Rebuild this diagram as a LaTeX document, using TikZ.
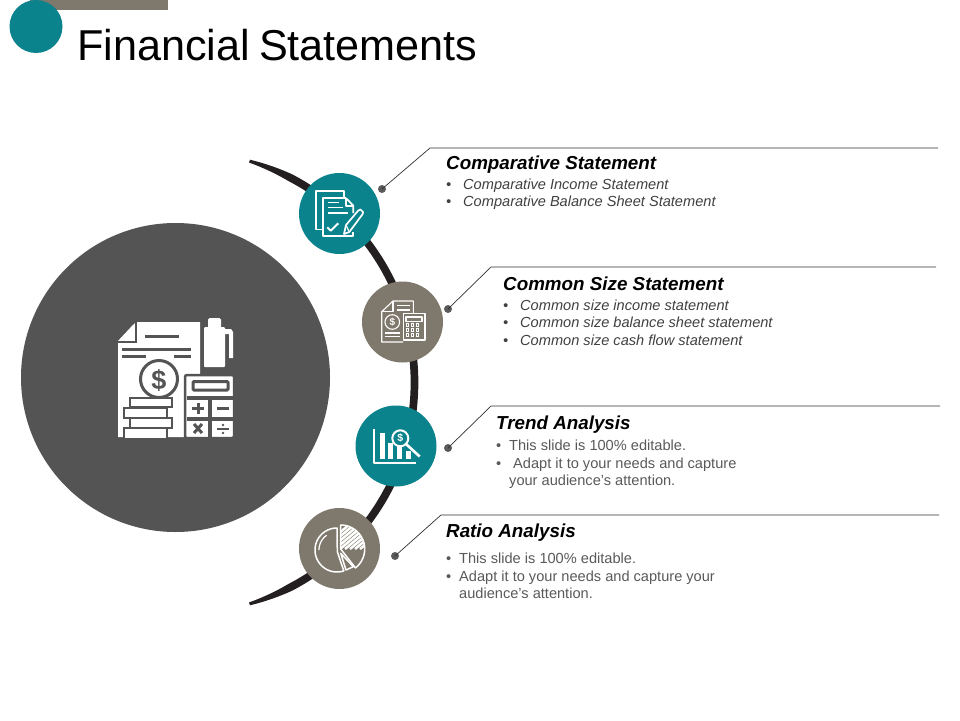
\documentclass[tikz,border=0pt]{standalone}
\usepackage{fontspec}
\setmainfont{Liberation Sans}[Ligatures=ResetAll]
\definecolor{teal1}{HTML}{0B838D}
\definecolor{taupe}{HTML}{7F786C}
\definecolor{dgrey}{HTML}{545454}
\definecolor{ringc}{HTML}{231F20}
\definecolor{dotc}{HTML}{5A5A5A}
\definecolor{leadc}{HTML}{303030}
\definecolor{txtc}{HTML}{404040}
\definecolor{txtb}{HTML}{595959}
\tikzset{
 x=1pt,y=-1pt,
 badge/.style={circle,minimum size=81pt,inner sep=0pt,draw=none},
 tealb/.style={badge,fill=teal1},
 taupeb/.style={badge,fill=taupe},
 dotn/.style={circle,minimum size=8pt,inner sep=0pt,fill=dotc},
 leader/.style={draw=leadc,line width=0.7pt},
 head/.style={anchor=base west,inner sep=0pt,font=\fontsize{18.8}{20}\selectfont\bfseries\itshape,text=black},
 iteml/.style={anchor=base west,inner sep=0pt,font=\fontsize{14.6}{16}\selectfont\itshape,text=txtc},
 itemp/.style={anchor=base west,inner sep=0pt,font=\fontsize{14.6}{16}\selectfont,text=txtb},
 ico/.style={draw=white,line width=1.7pt,fill=none,line join=round},
 bigw/.style={fill=white,draw=none},
 bigd/.style={draw=dgrey,line width=3pt},
}
\begin{document}
\begin{tikzpicture}
\useasboundingbox (0,0) rectangle (960,720);
% header
\fill[taupe] (30,0) rectangle (168,10);
\node[circle,minimum size=53pt,inner sep=0pt,fill=teal1] (hc) at (36,26.5) {};
\node[anchor=base west,inner sep=0pt,font=\fontsize{43.2}{48}\selectfont,text=black] (title) at (77,60) {Financial\hspace{-3pt} Statements};
% ring (tapered ends)
\fill[ringc] plot[domain=-73.4:73.4,samples=120,smooth] ({183.5+(231+0.5*(3+4.7*min(1,(73.4-abs(\x))/11)))*cos(\x)},{382.5+(231+0.5*(3+4.7*min(1,(73.4-abs(\x))/11)))*sin(\x)})
 -- plot[domain=73.4:-73.4,samples=120,smooth] ({183.5+(231-0.5*(3+4.7*min(1,(73.4-abs(\x))/11)))*cos(\x)},{382.5+(231-0.5*(3+4.7*min(1,(73.4-abs(\x))/11)))*sin(\x)}) -- cycle;
% main disc
\node[circle,minimum size=309pt,inner sep=0pt,fill=dgrey] (main) at (175.5,377.5) {};
% badges
\node[tealb] (b1) at (339.5,213.5) {};
\node[taupeb] (b2) at (402.5,322) {};
\node[tealb] (b3) at (396,446) {};
\node[taupeb] (b4) at (339.5,548.5) {};
% leaders
\node[dotn] (d1) at (382,189) {};
\node[dotn] (d2) at (448,309) {};
\node[dotn] (d3) at (448,448) {};
\node[dotn] (d4) at (395,556) {};
\coordinate (k1) at (430,148); \coordinate (e1) at (938,148);
\coordinate (k2) at (491,267); \coordinate (e2) at (936,267);
\coordinate (k3) at (491,406); \coordinate (e3) at (940,406);
\coordinate (k4) at (441,515); \coordinate (e4) at (939,515);
\draw[leader] (d1.center) -- (k1) -- (e1);
\draw[leader] (d2.center) -- (k2) -- (e2);
\draw[leader] (d3.center) -- (k3) -- (e3);
\draw[leader] (d4.center) -- (k4) -- (e4);
% text 1
\node[head] (h1) at (446,169) {Comparative Statement};
\node[iteml] (t1a0) at (446,189) {•};
\node[iteml] (t1a) at (463,189) {Comparative Income Statement};
\node[iteml] (t1b0) at (446,206) {•};
\node[iteml] (t1b) at (463,206) {Comparative Balance Sheet Statement};
% text 2
\node[head] (h2) at (503,290) {Common Size Statement};
\node[iteml] (t2a0) at (503,310) {•};
\node[iteml] (t2a) at (520,310) {Common size income statement};
\node[iteml] (t2b0) at (503,327) {•};
\node[iteml] (t2b) at (520,327) {Common size balance sheet statement};
\node[iteml] (t2c0) at (503,345) {•};
\node[iteml] (t2c) at (520,345) {Common size cash flow statement};
% text 3
\node[head] (h3) at (496,429) {Trend Analysis};
\node[itemp] (t3a0) at (496,450) {•};
\node[itemp] (t3a) at (509,450) {This slide is 100\% editable.};
\node[itemp] (t3b0) at (496,468) {•};
\node[itemp] (t3b) at (513,468) {Adapt it to your needs and capture};
\node[itemp] (t3c) at (509,485) {your audience's attention.};
% text 4
\node[head] (h4) at (446,537) {Ratio Analysis};
\node[itemp] (t4a0) at (446,563) {•};
\node[itemp] (t4a) at (459,563) {This slide is 100\% editable.};
\node[itemp] (t4b0) at (446,581) {•};
\node[itemp] (t4b) at (459,581) {Adapt it to your needs and capture your};
\node[itemp] (t4c) at (459,598) {audience's attention.};
% big icon: document
\fill[bigw] (136,322) -- (200,322) -- (200,376) -- (184,376) -- (184,437) -- (118,437) -- (118,341) -- cycle;
\draw[dgrey,line width=2.5pt] (136,321) -- (136,342) -- (117,342);
\fill[bigw] (133,325) -- (133,339) -- (120,339) -- cycle;
\draw[bigd] (145,336) -- (179,336);
\draw[bigd] (122,349) -- (191,349);
\draw[bigd] (122,356) -- (146,356);
\draw[bigd] (174,356) -- (191,356);
% coin
\draw[dgrey,fill=white,line width=3pt] (159,379) circle [radius=18.5];
\node[inner sep=0pt,font=\fontsize{27}{27}\selectfont\bfseries,text=dgrey] (dollarbig) at (159,380) {\$};
% coin stack
\foreach \xa/\ya/\xb/\yb in {130/398/172/407,124/408/167/418,130/418/172/428,124/428/167/440}{
 \draw[dgrey,fill=white,line width=2.8pt] (\xa,\ya) rectangle (\xb,\yb);
}
\fill[dgrey] (118,437.5) rectangle (184,445);
% bottle
\fill[bigw,rounded corners=1.5pt] (208,318) rectangle (221,330);
\fill[bigw,rounded corners=1pt] (204,327) rectangle (225,367);
\fill[bigw] (225,329) -- (231,329) -- (233,332) -- (233,358) -- (229,358) -- (229,334) -- (225,334) -- cycle;
% calculator
\draw[dgrey,line width=2.5pt,fill=white,rounded corners=2pt] (185,375) rectangle (234,438);
\fill[dgrey] (184,437.5) rectangle (236,445);
\draw[dgrey,line width=3pt,rounded corners=1pt,fill=white] (193,381.5) rectangle (228,390);
\fill[dgrey] (187,396) rectangle (234,400);
\fill[dgrey] (208,400) rectangle (212,437);
\fill[dgrey] (187,417) rectangle (234,421);
\draw[dgrey,line width=3pt] (192,408) -- (204,408) (198,402.5) -- (198,413.5);
\draw[dgrey,line width=3pt] (217,408) -- (229,408);
\draw[dgrey,line width=3pt] (194,424) -- (202,433) (202,424) -- (194,433);
\draw[dgrey,line width=2pt] (217,429) -- (229,429);
\fill[dgrey] (223,425) circle [radius=1.3] (223,433) circle [radius=1.3];
% icon 1
\draw[ico] (322.7,229.5) -- (316,229.5) -- (316,191) -- (344,191) -- (344,198);
\draw[ico] (346,198) -- (322.7,198) -- (322.7,236) -- (353,236) -- (353,232);
\draw[ico] (346,198) -- (353.3,205.7) -- (353.3,213);
\draw[ico] (346,198) -- (346,205.7) -- (353.3,205.7);
\draw[ico] (328,202.5) -- (338.5,202.5) (328,207.5) -- (343,207.5) (328,213) -- (348,213);
\draw[ico,line width=2pt] (327.3,227.3) -- (330.7,230.7) -- (338.3,223.3);
\draw[ico] (344,234) -- (346,225) -- (358.3,210.5) -- (360.5,209.5) -- (363,212) -- (362.7,214) -- (349.3,232) -- cycle;
\draw[ico,line width=1.2pt] (346,225) -- (349.3,232);
% icon 2
\draw[ico,line width=1.1pt] (403,342) -- (381.7,342) -- (381.7,311.7) -- (393,301) -- (413.3,301) -- (413.3,313);
\draw[ico,line width=1.1pt] (381.7,311.7) -- (393,311.7) -- (393,301);
\draw[ico,line width=1.1pt] (397,305.5) -- (410,305.5) (397,310) -- (410,310);
\draw[ico,line width=1.1pt] (392.3,322) circle [radius=7.3];
\node[inner sep=0pt,font=\fontsize{10}{10}\selectfont\bfseries,text=white] (dollar2) at (392.3,322) {\$};
\draw[ico,line width=1.1pt] (385,333) -- (400,333) (385,336.5) -- (400,336.5);
\draw[ico,line width=1.1pt] (403.3,313.3) rectangle (425,340);
\draw[ico,line width=1.1pt] (406,317) rectangle (422,321.5);
\foreach \px in {407.5,412.5,417.5}{\foreach \py in {325,330,335}{
 \fill[white] (\px-1.7,\py-1.7) rectangle (\px+1.7,\py+1.7);
}}
\foreach \px in {407.5,412.5,417.5}{\foreach \py in {325,330,335}{
 \fill[taupe] (\px-0.6,\py-0.6) rectangle (\px+0.6,\py+0.6);
}}
% icon 3
\draw[ico,line width=1.2pt] (374,429) -- (374,463) -- (416,463);
\foreach \tx in {379,383,...,415}{\draw[white,line width=0.7pt] (\tx,461.5) -- (\tx,463);}
\foreach \xa/\ya/\xb in {379.7/432.7/385.3,388/442.7/392.5,397.3/447/401.8,406.3/451/411.3}{
 \fill[white] (\xa,\ya) rectangle (\xb,459.3);
}
\draw[ico,fill=teal1,line width=2pt] (400.3,438.3) circle [radius=8];
\draw[white,line width=2.6pt] (406.2,444.2) -- (419.7,456.5);
\node[inner sep=0pt,font=\fontsize{10.5}{10}\selectfont\bfseries,text=white] (dollar3) at (400.3,438.3) {\$};
% icon 4
\draw[ico,line width=1.5pt] plot[domain=-90:-288,samples=50,smooth] ({337+22*cos(\x)},{550+22*sin(\x)}) -- (337.3,551.7) -- cycle;
\draw[white,line width=1.2pt] plot[domain=-180:-125,samples=15,smooth] ({337+18*cos(\x)},{550+18*sin(\x)});
\begin{scope}
\clip plot[domain=-90:52,samples=40,smooth] ({340.7+24*cos(\x)},{549+24*sin(\x)}) -- (340.7,549) -- cycle;
\foreach \i in {0,5,...,65}{\draw[white,line width=2.5pt] (320+\i,549) -- (320+\i+30,524);}
\end{scope}
\draw[ico,line width=1.5pt] plot[domain=-90:52,samples=40,smooth] ({340.7+24*cos(\x)},{549+24*sin(\x)}) -- (340.7,549) -- cycle;
\draw[ico,line width=1.5pt] (340.7,553.3) -- (353.3,566.7) -- (346,570) -- cycle;
\end{tikzpicture}
\end{document}
